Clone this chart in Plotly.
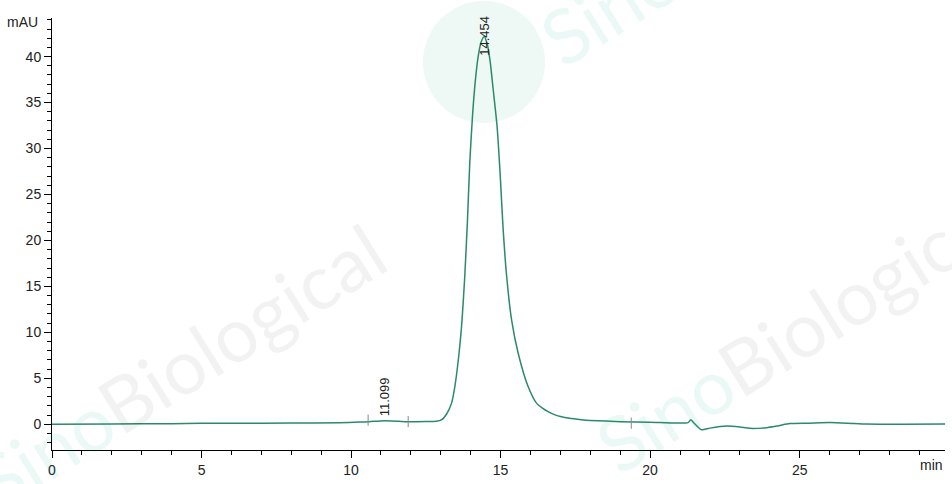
import plotly.graph_objects as go

# Chromatogram trace (time in min, absorbance in mAU)
time_min = [0, 2, 4, 5, 6, 8, 9.6, 10.3, 10.6, 11.1, 11.6, 11.9, 12.5, 12.85,
            13.02, 13.21, 13.36, 13.47, 13.61, 13.71, 13.80, 13.89, 13.97, 14.06,
            14.15, 14.25, 14.35, 14.454, 14.55, 14.65, 14.75, 14.88, 14.98, 15.08,
            15.2, 15.37, 15.59, 15.92, 16.2, 16.4, 16.6, 16.8, 17.0, 17.3, 17.7,
            18.0, 19.0, 20.0, 21.27, 21.36, 21.45, 21.72, 22.0, 22.56, 23.0,
            23.33, 23.89, 24.3, 24.67, 25.3, 26.01, 26.6, 27.24, 28.5, 29.86]
signal_mau = [0.0, 0.03, 0.06, 0.1, 0.1, 0.13, 0.17, 0.24, 0.28, 0.39, 0.32, 0.28, 0.3, 0.33,
              0.47, 1.2, 2.3, 4.1, 7.7, 11.3, 16.0, 22.0, 28.5, 33.5,
              37.2, 40.0, 41.6, 42.2, 41.4, 39.5, 36.5, 32.5, 27.5, 21.5,
              16.2, 11.3, 7.7, 4.1, 2.3, 1.75, 1.35, 1.05, 0.85, 0.65, 0.5,
              0.42, 0.28, 0.22, 0.18, 0.5, 0.2, -0.6, -0.42, -0.2, -0.3,
              -0.44, -0.37, -0.15, 0.07, 0.12, 0.18, 0.12, 0.02, 0.0, 0.02]

# Peak labels
peak_times = [11.099, 14.454]
peak_heights = [0.7, 39.9]
peak_labels = ["11.099", "14.454"]

# Integration markers
marker_times = [10.57, 11.91, 19.37]
marker_values = [0.45, 0.3, 0.12]

x_ticks = [0, 5, 10, 15, 20, 25]
y_ticks = [0, 5, 10, 15, 20, 25, 30, 35, 40]

line_color = "#2b8a68"
font_family = "Liberation Sans, Arial, sans-serif"

L, R, T, B = 52, 7, 18, 34
PW, PH = 952 - L - R, 484 - T - B


def px(x, y):
    return (x - L) / PW, (484 - B - y) / PH


fig = go.Figure()

# Watermarks (faint)
cx0, cy0 = px(423, 1)
cx1, cy1 = px(545, 123)
fig.add_shape(type="circle", xref="paper", yref="paper",
              x0=cx0, x1=cx1, y0=cy1, y1=cy0,
              fillcolor="#eef8f4", line=dict(width=0), layer="below")
wm_text = ("<span style='color:rgba(0,175,135,0.08)'>Sino</span>"
           "<span style='color:rgba(0,0,0,0.05)'>Biological</span>")
for cx, cy in [(180, 365), (800, 328), (745, -78)]:
    ax, ay = px(cx, cy)
    fig.add_annotation(xref="paper", yref="paper", x=ax, y=ay, xanchor="center", yanchor="middle",
                       text=wm_text, showarrow=False, textangle=-32,
                       font=dict(size=76, family="Lato, sans-serif"))

fig.add_trace(go.Scatter(x=time_min, y=signal_mau, mode="lines",
                         line=dict(color=line_color, width=1.5, shape="spline", smoothing=0.6),
                         hoverinfo="skip", showlegend=False))
fig.add_trace(go.Scatter(x=marker_times, y=marker_values, mode="markers",
                         marker=dict(symbol="line-ns-open", size=8, color="#888888",
                                     line=dict(color="#888888", width=1)),
                         hoverinfo="skip", showlegend=False))

for t, h, lab in zip(peak_times, peak_heights, peak_labels):
    fig.add_annotation(x=t, y=h, text=lab, showarrow=False, textangle=-90,
                       xanchor="center", yanchor="bottom",
                       font=dict(size=13, color="#222222", family=font_family))

mx, my = px(40, 22)
fig.add_annotation(xref="paper", yref="paper", x=mx, y=my,
                   text="mAU", showarrow=False, xanchor="right", yanchor="middle",
                   font=dict(size=14, color="#222222", family=font_family))
nx, ny = px(945, 465)
fig.add_annotation(xref="paper", yref="paper", x=nx, y=ny,
                   text="min", showarrow=False, xanchor="right", yanchor="middle",
                   font=dict(size=14, color="#222222", family=font_family))

fig.update_layout(
    width=952, height=484,
    margin=dict(l=L, r=R, t=T, b=B, autoexpand=False),
    paper_bgcolor="white", plot_bgcolor="white",
    font=dict(family=font_family, size=14, color="#222222"),
    hovermode=False,
    xaxis=dict(range=[0, 29.86], tickvals=x_ticks, ticks="outside", ticklen=7,
               tickcolor="#000000", showline=True, linecolor="#000000", linewidth=1,
               showgrid=False, zeroline=False,
               minor=dict(dtick=1, ticks="outside", ticklen=4, tickcolor="#000000", showgrid=False)),
    yaxis=dict(range=[-2.8, 44.2], tickvals=y_ticks, ticks="outside", ticklen=7,
               tickcolor="#000000", showline=True, linecolor="#000000", linewidth=1,
               showgrid=False, zeroline=False,
               minor=dict(dtick=1, ticks="outside", ticklen=4, tickcolor="#000000", showgrid=False)),
)

fig.write_html("out.html", config={"displayModeBar": False},
               post_script="document.body.style.margin='0px';document.body.style.padding='0px';")
